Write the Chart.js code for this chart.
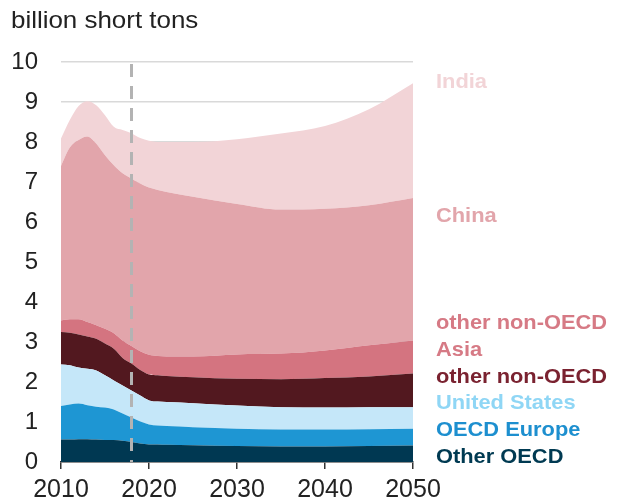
<!DOCTYPE html>
<html>
<head>
<meta charset="utf-8">
<script src="https://cdn.jsdelivr.net/npm/chart.js@4.4.0/dist/chart.umd.min.js"></script>
<style>
  html, body { margin: 0; padding: 0; background: #fff; }
  #wrap { width: 619px; height: 504px; }
</style>
</head>
<body>
<div id="wrap"><canvas id="coal-chart" width="619" height="504"></canvas></div>
<script>
    // ===== DATA ===== //
    const years = [2010, 2011, 2012, 2013, 2014, 2015, 2016, 2017, 2018, 2019, 2020, 2021, 2022, 2025, 2030, 2035, 2040, 2045, 2050];

    // billion short tons, stacked bottom to top
    const otherOECD    = [0.56, 0.56, 0.57, 0.57, 0.56, 0.55, 0.55, 0.53, 0.50, 0.46, 0.44, 0.44, 0.43, 0.42, 0.40, 0.39, 0.39, 0.40, 0.41];
    const oecdEurope   = [0.84, 0.88, 0.89, 0.85, 0.82, 0.81, 0.76, 0.68, 0.61, 0.55, 0.50, 0.47, 0.47, 0.45, 0.43, 0.42, 0.42, 0.42, 0.42];
    const unitedStates = [1.04, 0.98, 0.90, 0.91, 0.91, 0.81, 0.73, 0.70, 0.68, 0.65, 0.60, 0.60, 0.60, 0.60, 0.58, 0.56, 0.55, 0.55, 0.54];
    const otherNonOECD = [0.81, 0.81, 0.83, 0.81, 0.79, 0.79, 0.79, 0.69, 0.67, 0.64, 0.65, 0.66, 0.65, 0.65, 0.67, 0.70, 0.74, 0.77, 0.84];
    const otherAsia    = [0.29, 0.34, 0.38, 0.36, 0.34, 0.37, 0.39, 0.44, 0.44, 0.47, 0.49, 0.48, 0.49, 0.52, 0.61, 0.64, 0.69, 0.78, 0.83];
    const china        = [3.86, 4.29, 4.48, 4.64, 4.54, 4.34, 4.20, 4.18, 4.19, 4.19, 4.18, 4.15, 4.11, 3.99, 3.76, 3.60, 3.54, 3.50, 3.56];
    const india        = [0.69, 0.69, 0.85, 0.88, 0.96, 1.00, 0.96, 1.08, 1.13, 1.14, 1.17, 1.20, 1.25, 1.37, 1.62, 1.90, 2.07, 2.40, 2.87];

    const yTicks = [0, 1, 2, 3, 4, 5, 6, 7, 8, 9, 10];
    const xTicks = [2010, 2020, 2030, 2040, 2050];
    const projectionStart = 2018;

    // ===== STYLES ===== //
    const FONT = "'Liberation Sans', Arial, sans-serif";

    const SERIES = [
      { label: "Other OECD", data: otherOECD, color: "#003852" },
      { label: "OECD Europe", data: oecdEurope, color: "#1e96d3" },
      { label: "United States", data: unitedStates, color: "#c5e7f9" },
      { label: "other non-OECD", data: otherNonOECD, color: "#52181f" },
      { label: "other non-OECD Asia", data: otherAsia, color: "#d47480" },
      { label: "China", data: china, color: "#e2a5ab" },
      { label: "India", data: india, color: "#f2d4d7" }
    ];

    // right-hand labels: text lines with their baselines
    const LABELS = [
      { text: "India", color: "#f2d4d7", y: 88 },
      { text: "China", color: "#e2a5ab", y: 222 },
      { text: "other non-OECD", color: "#d67a85", y: 329 },
      { text: "Asia", color: "#d67a85", y: 356 },
      { text: "other non-OECD", color: "#7a2230", y: 382.5 },
      { text: "United States", color: "#8fd6f5", y: 409 },
      { text: "OECD Europe", color: "#1d8fcf", y: 436 },
      { text: "Other OECD", color: "#003a52", y: 463 }
    ];

    function drawText(ctx, text, x, y, font, color, stretch) {
      ctx.save();
      ctx.translate(x, y);
      ctx.scale(stretch, 1);
      ctx.font = font;
      ctx.fillStyle = color;
      ctx.textAlign = "left";
      ctx.textBaseline = "alphabetic";
      ctx.fillText(text, 0, 0);
      ctx.restore();
    }

    // dashed marker where projections begin
    const projectionLine = {
      id: "projectionLine",
      afterDatasetsDraw(chart) {
        const { ctx, chartArea, scales } = chart;
        const x = Math.round(scales.x.getPixelForValue(projectionStart)) + 0.5;
        ctx.save();
        ctx.strokeStyle = "#b3b3b3";
        ctx.lineWidth = 3;
        ctx.setLineDash([13, 9]);
        ctx.beginPath();
        ctx.moveTo(x, chartArea.top + 2);
        ctx.lineTo(x, chartArea.bottom);
        ctx.stroke();
        ctx.restore();
      }
    };

    const annotations = {
      id: "annotations",
      afterDraw(chart) {
        const ctx = chart.ctx;
        drawText(ctx, "billion short tons", 11, 28, "24px " + FONT, "#222", 1.08);
        LABELS.forEach(l => {
          drawText(ctx, l.text, 436, l.y, "bold 21px " + FONT, l.color, 1.04);
        });
      }
    };

    // ===== CHART ===== //
    const datasets = SERIES.map((s, i) => ({
      label: s.label,
      data: years.map((yr, j) => ({ x: yr, y: s.data[j] })),
      backgroundColor: s.color,
      borderWidth: 0,
      pointRadius: 0,
      fill: i === 0 ? "origin" : "-1",
      cubicInterpolationMode: "monotone"
    }));

    new Chart(document.getElementById("coal-chart"), {
      type: "line",
      data: { datasets },
      plugins: [projectionLine, annotations],
      options: {
        responsive: false,
        animation: false,
        layout: { padding: { left: 0, right: 206, top: 62, bottom: 0 } },
        plugins: {
          legend: { display: false },
          tooltip: { enabled: false },
          filler: { propagate: false }
        },
        scales: {
          x: {
            type: "linear",
            min: 2010,
            max: 2050,
            afterBuildTicks: scale => { scale.ticks = xTicks.map(v => ({ value: v })); },
            afterFit: scale => { scale.height = 42; },
            ticks: {
              color: "#222",
              font: { family: FONT, size: 25 },
              padding: 6,
              maxRotation: 0,
              callback: v => String(v)
            },
            grid: { drawOnChartArea: false, drawTicks: true, tickLength: 7, color: "#333", lineWidth: 1.5 },
            border: { color: "#333", width: 1.5 }
          },
          y: {
            stacked: true,
            min: 0,
            max: 10,
            afterBuildTicks: scale => { scale.ticks = yTicks.map(v => ({ value: v })); },
            afterFit: scale => { scale.width = 61; },
            ticks: {
              color: "#222",
              font: { family: FONT, size: 24 },
              padding: 23,
              callback: v => String(v)
            },
            grid: { drawTicks: false, color: "#d9d9d9", lineWidth: 1.5 },
            border: { display: false }
          }
        }
      }
    });
</script>
</body>
</html>
